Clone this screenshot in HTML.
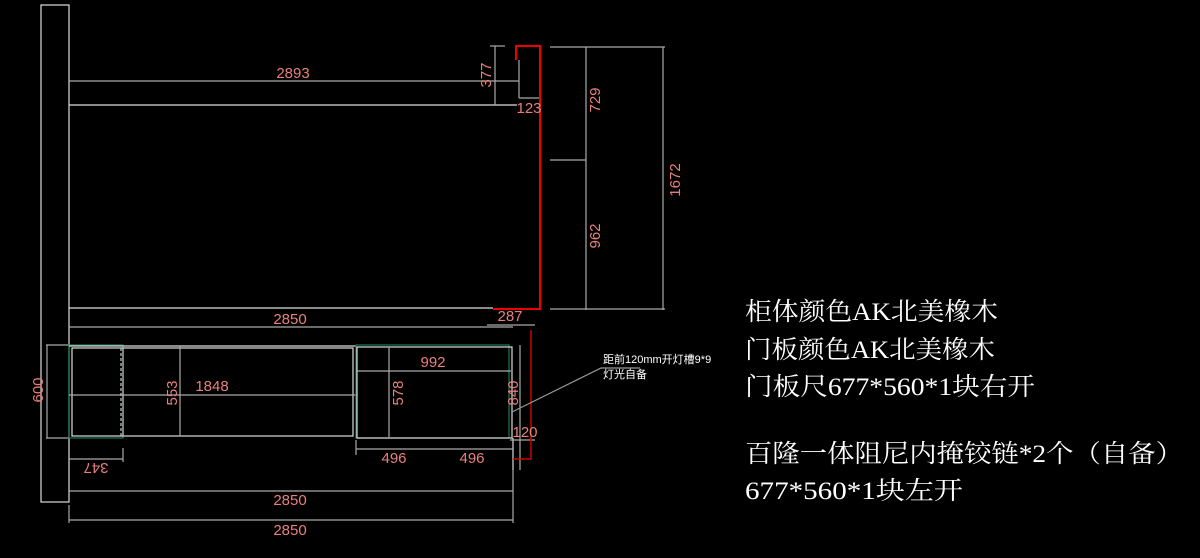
<!DOCTYPE html>
<html><head><meta charset="utf-8"><style>
html,body{margin:0;padding:0;background:#000;width:1200px;height:558px;overflow:hidden}
svg{display:block}
.d{fill:#e8807c;font-family:"Liberation Sans",sans-serif;font-size:15px;text-anchor:middle}
.t{fill:#fff;font-family:"Liberation Serif","Noto Serif CJK SC",serif;font-size:25px}
</style></head><body>
<svg width="1200" height="558" viewBox="0 0 1200 558">
<g fill="none" stroke-width="1.2">
<rect x="41" y="5" width="28" height="497" stroke="#ddd"/>
<line x1="69" y1="81" x2="519" y2="81" stroke="#aaa"/>
<line x1="69" y1="105" x2="517" y2="105" stroke="#ddd"/>
<line x1="69" y1="308" x2="493" y2="308" stroke="#ddd"/>
<line x1="495" y1="46" x2="495" y2="105" stroke="#aaa"/>
<line x1="490" y1="46" x2="505" y2="46" stroke="#aaa"/>
<line x1="519" y1="60" x2="519" y2="98" stroke="#aaa"/>
<line x1="519" y1="98" x2="540" y2="98" stroke="#aaa"/>
<line x1="550" y1="47" x2="665" y2="47" stroke="#aaa"/>
<line x1="550" y1="309" x2="665" y2="309" stroke="#aaa"/>
<line x1="586" y1="47" x2="586" y2="310" stroke="#aaa"/>
<line x1="550" y1="160" x2="586" y2="160" stroke="#aaa"/>
<line x1="663" y1="47" x2="663" y2="310" stroke="#aaa"/>
<path d="M516 60 V46 H540 V309 H493" stroke="#e00" stroke-width="2"/>
<line x1="69" y1="327" x2="513" y2="327" stroke="#aaa"/>
<line x1="487" y1="325" x2="535" y2="325" stroke="#aaa"/>
<line x1="46" y1="345" x2="69" y2="345" stroke="#aaa"/>
<line x1="46" y1="438" x2="69" y2="438" stroke="#aaa"/>
<line x1="47" y1="345" x2="47" y2="438" stroke="#aaa"/>
<rect x="69" y="345" width="54" height="93" stroke="#1a7a55"/>
<rect x="72" y="348" width="281" height="88" stroke="#ddd"/>
<line x1="69" y1="346" x2="356" y2="346" stroke="#ddd"/>
<line x1="121" y1="348" x2="121" y2="436" stroke="#ccc" stroke-dasharray="3 2"/>
<line x1="123" y1="348" x2="123" y2="436" stroke="#ccc"/>
<line x1="69" y1="395" x2="356" y2="395" stroke="#aaa"/>
<line x1="180" y1="346" x2="180" y2="436" stroke="#aaa"/>
<rect x="356" y="345" width="153" height="93" stroke="#1a7a55"/>
<rect x="357" y="347" width="155" height="91" stroke="#ddd"/>
<line x1="356" y1="371" x2="511" y2="371" stroke="#aaa"/>
<line x1="389" y1="347" x2="389" y2="437" stroke="#aaa"/>
<line x1="520" y1="345" x2="520" y2="470" stroke="#aaa"/>
<line x1="513" y1="438" x2="513" y2="470" stroke="#ddd"/>
<line x1="510" y1="440" x2="535" y2="440" stroke="#aaa"/>
<path d="M531 330 V459 H513" stroke="#c00" stroke-width="1.5"/>
<line x1="356" y1="449" x2="513" y2="449" stroke="#aaa"/>
<line x1="356" y1="440" x2="356" y2="455" stroke="#aaa"/>
<line x1="69" y1="459" x2="123" y2="459" stroke="#aaa"/>
<line x1="123" y1="448" x2="123" y2="462" stroke="#aaa"/>
<line x1="69" y1="491" x2="513" y2="491" stroke="#aaa"/>
<line x1="69" y1="520" x2="513" y2="520" stroke="#aaa"/>
<line x1="69" y1="505" x2="69" y2="523" stroke="#aaa"/>
<line x1="513" y1="470" x2="513" y2="523" stroke="#aaa"/>
<path d="M512 412 L601 368 H640" stroke="#999"/>
</g>
<g class="d">
<text x="293" y="78">2893</text>
<text x="0" y="0" transform="translate(491,75) rotate(-90)">377</text>
<text x="529" y="113">123</text>
<text x="0" y="0" transform="translate(600,100) rotate(-90)">729</text>
<text x="0" y="0" transform="translate(600,236) rotate(-90)">962</text>
<text x="0" y="0" transform="translate(680,180) rotate(-90)">1672</text>
<text x="290" y="324">2850</text>
<text x="510" y="321">287</text>
<text x="0" y="0" transform="translate(43,390) rotate(-90)">600</text>
<text x="0" y="0" transform="translate(177,393) rotate(-90)">553</text>
<text x="212" y="391">1848</text>
<text x="433" y="367">992</text>
<text x="0" y="0" transform="translate(403,393) rotate(-90)">578</text>
<text x="0" y="0" transform="translate(518,393) rotate(-90)">840</text>
<text x="525" y="437">120</text>
<text x="394" y="463">496</text>
<text x="472" y="463">496</text>
<text x="0" y="0" transform="translate(96,463) rotate(180)">347</text>
<text x="290" y="505">2850</text>
<text x="290" y="535">2850</text>
</g>
<g fill="#fff" font-family="'Liberation Sans','Noto Sans CJK SC',sans-serif" font-size="11">
<text x="603" y="363">距前120mm开灯槽9*9</text>
<text x="603" y="378">灯光自备</text>
</g>
<g class="t">
<text x="745" y="320" textLength="253" lengthAdjust="spacingAndGlyphs">柜体颜色AK北美橡木</text>
<text x="745" y="358" textLength="250" lengthAdjust="spacingAndGlyphs">门板颜色AK北美橡木</text>
<text x="745" y="395" textLength="290" lengthAdjust="spacingAndGlyphs">门板尺677*560*1块右开</text>
<text x="745" y="462" textLength="438" lengthAdjust="spacingAndGlyphs">百隆一体阻尼内掩铰链*2个（自备）</text>
<text x="745" y="499" textLength="218" lengthAdjust="spacingAndGlyphs">677*560*1块左开</text>
</g>
</svg>
</body></html>
